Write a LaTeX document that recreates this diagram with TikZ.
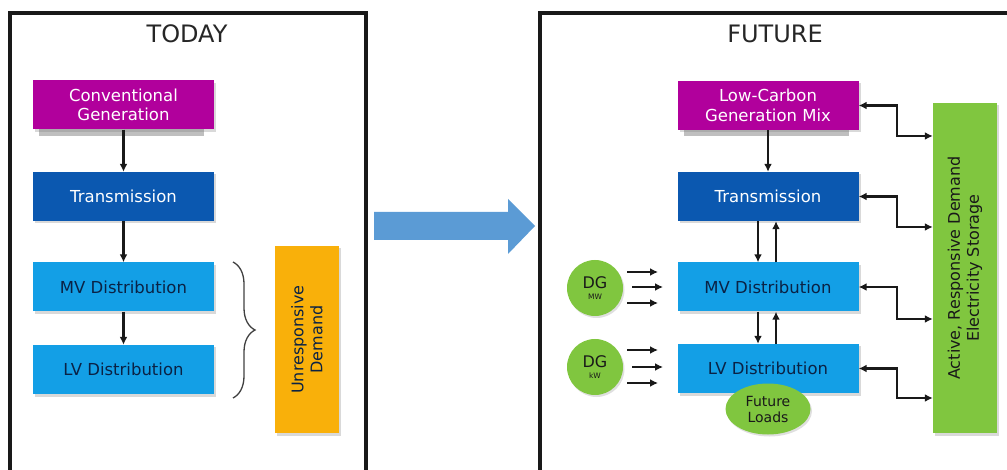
\documentclass[tikz,border=0pt]{standalone}
\usepackage{fontspec}
\setmainfont{DejaVu Sans}
\usetikzlibrary{arrows.meta,shadows,decorations.pathreplacing,calc,shapes.geometric}
\definecolor{magen}{HTML}{B1009C}
\definecolor{dblue}{HTML}{0B58B0}
\definecolor{lblue}{HTML}{139FE6}
\definecolor{orng}{HTML}{F9B00A}
\definecolor{grn}{HTML}{80C63F}
\definecolor{navy}{HTML}{0A2245}
\definecolor{bigarrow}{HTML}{5B9BD5}
\tikzset{
  blk/.style={draw=none, minimum width=181pt, minimum height=49pt, inner sep=0pt, align=center,
     font=\fontsize{16.5}{19.5}\selectfont,
     drop shadow={opacity=0.3, shadow xshift=2pt, shadow yshift=-2.5pt}},
  gen/.style={blk, fill=magen, text=white},
  trans/.style={blk, fill=dblue, text=white},
  dist/.style={blk, fill=lblue, text=navy},
  tall/.style={draw=none, inner sep=0pt, align=center, text=navy,
     drop shadow={opacity=0.3, shadow xshift=2pt, shadow yshift=-2.5pt}},
  dg/.style={circle, fill=grn, minimum size=56pt, inner sep=0pt, align=center, text=black!90,
     drop shadow={opacity=0.25, shadow xshift=1.5pt, shadow yshift=-2pt}},
  conn/.style={line width=2.4pt, black!90, -{Latex[length=8pt,width=8pt]}},
  dconn/.style={line width=2.4pt, black!90, {Latex[length=8pt,width=8pt]}-{Latex[length=8pt,width=8pt]}},
  frame/.style={line width=3.2pt, black!90},
  title/.style={font=\fontsize{24}{28}\selectfont, text=black!85},
  bracestyle/.style={black!75, line width=1.3pt, decorate, decoration={brace, amplitude=22pt}}
}
\begin{document}
\begin{tikzpicture}[x=1pt,y=-1pt]
\useasboundingbox (0,0) rectangle (1007,470);
% frames
\draw[frame] (10,470) -- (10,13) -- (366,13) -- (366,470);
\draw[frame] (540,470) -- (540,13) -- (1007,13);
\node[title] (today) at (187,34) {TODAY};
\node[title] (future) at (775,34) {FUTURE};

% ---------- TODAY ----------
\fill[black!25] (39,129) rectangle (204,136);
\node[gen] (cg) at (123.5,105) {Conventional\\Generation};
\node[trans] (tt) at (123.5,196.5) {Transmission};
\node[dist] (tmv) at (123.5,287) {MV Distribution};
\node[dist] (tlv) at (123.5,369.5) {LV Distribution};
\draw[conn] (cg) -- (tt);
\draw[conn] (tt) -- (tmv);
\draw[conn] (tmv) -- (tlv);
\coordinate (bt) at (233,262);
\coordinate (bb) at (233,398);
\draw[bracestyle] (bt) -- (bb);
\node[tall, fill=orng, minimum width=64pt, minimum height=187pt] (ud) at (307,339.5) {};
\node[rotate=90, align=center, text=navy, font=\fontsize{16}{19}\selectfont] (udt) at (ud.center) {Unresponsive\\Demand};

% big arrow
\fill[bigarrow] (374,212) -- (508,212) -- (508,199) -- (535,226) -- (508,254) -- (508,240) -- (374,240) -- cycle;

% ---------- FUTURE ----------
\fill[black!25] (684,130) rectangle (849,136);
\node[gen] (lc) at (768,105.5) {Low-Carbon\\Generation Mix};
\node[trans] (ft) at (768,196.5) {Transmission};
\node[dist] (fmv) at (768,287) {MV Distribution};
\node[dist] (flv) at (768,368.5) {LV Distribution};
\node[tall, fill=grn, minimum width=64pt, minimum height=330pt] (ar) at (965,268) {};
\node[rotate=90, align=center, text=black!90, font=\fontsize{16}{19}\selectfont] (art) at (ar.center) {Active, Responsive Demand\\Electricity Storage};
\node[ellipse, fill=grn, minimum width=85pt, minimum height=51pt, inner sep=0pt, align=center, text=black!90, font=\fontsize{14}{16}\selectfont, drop shadow={opacity=0.25, shadow xshift=1.5pt, shadow yshift=-2pt}] (fl) at (768,409) {Future\\Loads};

\draw[conn] (lc) -- (ft);
\draw[conn] (ft.south -| 758,0) -- (fmv.north -| 758,0);
\draw[conn] (fmv.north -| 776,0) -- (ft.south -| 776,0);
\draw[conn] (fmv.south -| 758,0) -- (flv.north -| 758,0);
\draw[conn] (flv.north -| 776,0) -- (fmv.south -| 776,0);

\draw[dconn] (lc.east) -- ++(38,0) |- (ar.west |- 0,136);
\draw[dconn] (ft.east) -- ++(38,0) |- (ar.west |- 0,227);
\draw[dconn] (fmv.east) -- ++(38,0) |- (ar.west |- 0,319);
\draw[dconn] (flv.east) -- ++(38,0) |- (ar.west |- 0,398);

% DG sources
\node[dg] (dgmw) at (595,288) {\fontsize{16}{16}\selectfont DG\\[-1pt]\fontsize{7.5}{7.5}\selectfont MW};
\node[dg] (dgkw) at (595,367) {\fontsize{16}{16}\selectfont DG\\[-1pt]\fontsize{7.5}{7.5}\selectfont kW};
\coordinate (m1) at (627,272); \coordinate (m1e) at (658,272);
\coordinate (m2) at (632,287); \coordinate (m2e) at (663,287);
\coordinate (m3) at (627,303); \coordinate (m3e) at (658,303);
\coordinate (k1) at (627,350); \coordinate (k1e) at (658,350);
\coordinate (k2) at (632,367); \coordinate (k2e) at (663,367);
\coordinate (k3) at (627,383); \coordinate (k3e) at (658,383);
\foreach \a/\b in {m1/m1e,m2/m2e,m3/m3e,k1/k1e,k2/k2e,k3/k3e} \draw[conn] (\a) -- (\b);
\end{tikzpicture}
\end{document}
